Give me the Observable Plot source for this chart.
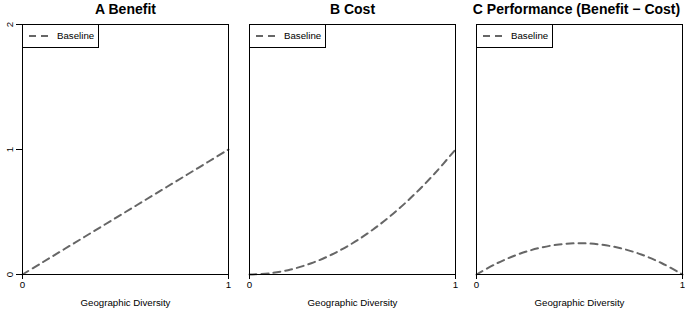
<!DOCTYPE html>
<html>
<head>
<meta charset="utf-8">
<script src="https://cdn.jsdelivr.net/npm/d3@7"></script>
<script src="https://cdn.jsdelivr.net/npm/@observablehq/plot@0.6"></script>
<style>
  html, body { margin: 0; padding: 0; background: #fff; }
  #chart { position: relative; width: 685px; height: 310px; overflow: hidden; }
  #chart svg { position: absolute; top: 0; overflow: visible; }
</style>
</head>
<body>
<div id="chart"></div>
<script>
const diversity = [0, 0.1, 0.2, 0.3, 0.4, 0.5, 0.6, 0.7, 0.8, 0.9, 1];
const benefit = [0, 0.1, 0.2, 0.3, 0.4, 0.5, 0.6, 0.7, 0.8, 0.9, 1];
const cost = [0, 0.01, 0.04, 0.09, 0.16, 0.25, 0.36, 0.49, 0.64, 0.81, 1];
const performance = [0, 0.09, 0.16, 0.21, 0.24, 0.25, 0.24, 0.21, 0.16, 0.09, 0];
const panelTitles = ["A Benefit", "B Cost", "C Performance (Benefit \u2212 Cost)"];
const xTicks = [0, 1];
const yTicks = [0, 1, 2];
const legendLabel = "Baseline";
const xLabel = "Geographic Diversity";

const series = [benefit, cost, performance];
const lefts = [0, 227, 454];
const widths = [230, 230, 231];
const rights = [2, 2, 3];
const font = "'Liberation Sans', Arial, Helvetica, sans-serif";
const lineColor = "#666666";
const dash = "7,5";

const container = document.getElementById("chart");

series.forEach((vals, i) => {
  const data = diversity.map((d, j) => ({x: d, y: vals[j]}));
  const marks = [
    Plot.line(data, {x: "x", y: "y", stroke: lineColor, strokeWidth: 2, strokeDasharray: dash, curve: "catmull-rom"}),
    Plot.frame({stroke: "#000", strokeWidth: 1}),
    Plot.axisX({ticks: xTicks, tickSize: 5, tickPadding: 2, tickFormat: d3.format("d"), fontSize: 9.7, label: null}),
    Plot.text([xLabel], {frameAnchor: "bottom", dy: 31, fontSize: 9.7, fill: "#000"}),
    Plot.text([panelTitles[i]], {frameAnchor: "top", dy: -20, dx: i === 2 ? -3 : 0, fontSize: 14, fontWeight: "bold", fill: "#000"})
  ];
  if (i === 0) {
    marks.push(Plot.axisY({ticks: yTicks, tickSize: 6, tickPadding: 4, tickRotate: -90, tickFormat: d3.format("d"), fontSize: 9.7, label: null}));
  }
  const plot = Plot.plot({
    width: widths[i],
    height: 310,
    marginLeft: 22,
    marginRight: rights[i],
    marginTop: 24,
    marginBottom: 36,
    style: {fontFamily: font, color: "#000", background: "transparent", overflow: "visible"},
    x: {domain: [0, 1]},
    y: {domain: [0, 2], axis: i === 0 ? undefined : null},
    marks
  });
  plot.style.left = lefts[i] + "px";
  const svg = d3.select(plot);
  const g = svg.append("g");
  g.append("rect").attr("x", 22.5).attr("y", 24.5).attr("width", 76).attr("height", 23)
    .attr("fill", "#fff").attr("stroke", "#000").attr("stroke-width", 1);
  g.append("line").attr("x1", 29).attr("x2", 48).attr("y1", 36).attr("y2", 36)
    .attr("stroke", lineColor).attr("stroke-width", 2).attr("stroke-dasharray", dash);
  g.append("text").attr("x", 57).attr("y", 36).attr("dy", "0.35em")
    .attr("text-anchor", "start")
    .attr("font-size", 9.7).attr("font-family", font).attr("fill", "#000").text(legendLabel);
  container.appendChild(plot);
});
</script>
</body>
</html>
